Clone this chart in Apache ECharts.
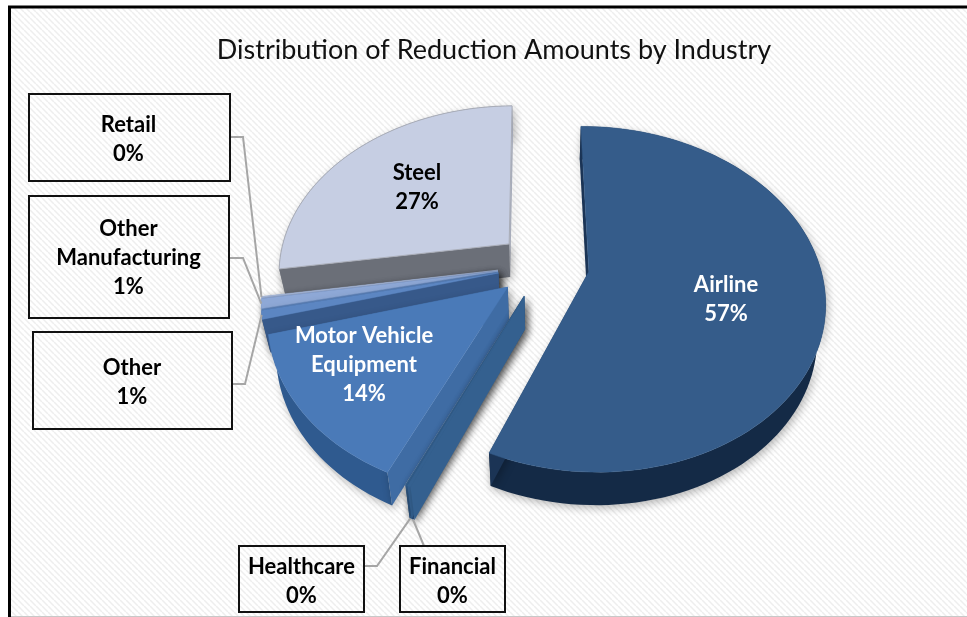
<!DOCTYPE html>
<html><head><meta charset="utf-8">
<style>html,body{margin:0;padding:0;background:#fff;overflow:hidden}
#c{width:967px;height:617px}</style>
<script src="https://cdn.jsdelivr.net/npm/echarts@6/dist/echarts.min.js"></script>
</head><body><div id="c"></div>
<script>
// Data, in clockwise order starting from the top of the pie
const categories = ['Airline','Financial','Healthcare','Motor Vehicle Equipment','Other','Other Manufacturing','Retail','Steel'];
const shareValues = [56.6, 0.2, 0.1, 14.0, 0.8, 0.9, 0.1, 27.3];
const chartTitle = 'Distribution of Reduction Amounts by Industry';

// Styles per category
const topColors   = ['#355c8a','#34608f','#34608f','#4a7ab8','#5c86c2','#8ea8d6','#a9bbdd','#c6cee3'];
const rimColors   = ['#142a46','#2b5080','#2f5a8f','#2f5a8f','#3a5f8e','#587cb0','#7f90b0','#8a8e98'];
const wallFirst   = ['#1b3455','#34608f','#34608f','#3f6ca4','#37598a','#5a7fb5','#8a9cc0','#6b6f78'];
const wallLast    = ['#1b3455','#34608f','#34608f','#3f6ca4','#37598a','#5a7fb5','#8a9cc0','#a7acba'];

// Label layout: [cx, cy, boxX, boxY, boxW, boxH]
const labelLayout = {
  'Airline':[726,299],
  'Steel':[417,187],
  'Motor Vehicle Equipment':[364,365],
  'Retail':[128.5,139,29,94,201,87],
  'Other Manufacturing':[128.5,258,29,196,200,122],
  'Other':[132,382,33,332,199,97],
  'Healthcare':[301.5,581,239,546,125,66],
  'Financial':[452.5,581,400,546,105,66]
};
const labelLines = {'Motor Vehicle Equipment':['Motor Vehicle','Equipment'],'Other Manufacturing':['Other','Manufacturing']};
const labelWhite = {'Airline':1,'Motor Vehicle Equipment':1};
// Leader elbows: box exit point and knee
const leaders = {
  'Retail':[[230,137],[243,137]],
  'Other Manufacturing':[[230,258],[243,258]],
  'Other':[[232,384],[245,384]],
  'Healthcare':[[364,566],[377,566]],
  'Financial':[[424,546]]
};

// Pie projection
const pie = {cx:543.5, cy:265, R:231, explode:46, squash:0.72, persp:1450, depth:33, shrink:0.03, start:-0.5};
function project(X,Y){
  const s = 1/(1-Y/pie.persp);
  return [pie.cx + X*s, pie.cy + Y*pie.squash*s];
}
function lower(p){ return [p[0] + (pie.cx-p[0])*pie.shrink, p[1] + pie.depth]; }
const total = shareValues.reduce((a,b)=>a+b,0);
const spans = []; (function(){ let acc=0; shareValues.forEach(v=>{ const a0=pie.start+acc/total*360; acc+=v; spans.push([a0,pie.start+acc/total*360]); }); })();
function slicePts(i){
  const [a0,a1]=spans[i], mid=(a0+a1)/2*Math.PI/180;
  const ox=Math.sin(mid)*pie.explode, oy=-Math.cos(mid)*pie.explode;
  const apex=project(ox,oy), arc=[];
  const n=Math.max(2,Math.ceil((a1-a0)/2));
  for(let k=0;k<=n;k++){ const t=(a0+(a1-a0)*k/n)*Math.PI/180;
    arc.push(project(ox+Math.sin(t)*pie.R, oy-Math.cos(t)*pie.R)); }
  return {apex,arc};
}
const shadow={shadowBlur:8,shadowColor:'rgba(0,0,0,0.28)',shadowOffsetX:2,shadowOffsetY:3};
const order=[7,6,5,4,3,2,1,0];

function renderSlice(params,api){
  const i=order[params.dataIndex];
  const {apex,arc}=slicePts(i);
  const ch=[];
  const la=lower(apex), first=arc[0], last=arc[arc.length-1];
  ch.push({type:'polygon',shape:{points:arc.concat(arc.map(lower).reverse())},style:Object.assign({fill:rimColors[i]},shadow)});
  ch.push({type:'polygon',shape:{points:[apex,last,lower(last),la]},style:Object.assign({fill:wallLast[i]},shadow)});
  ch.push({type:'polygon',shape:{points:[apex,first,lower(first),la]},style:Object.assign({fill:wallFirst[i]},shadow)});
  ch.push({type:'polygon',shape:{points:[apex].concat(arc)},style:{fill:topColors[i],stroke:i===7?'#a9adb8':topColors[i],lineWidth:i===7?1:0.5}});
  return {type:'group',children:ch};
}
function fmt(name){
  const v=shareValues[categories.indexOf(name)];
  return (labelLines[name]||[name]).concat([Math.round(v/total*100)+'%']).join('\n');
}
function renderLabel(params,api){
  const name=categories[params.dataIndex], L=labelLayout[name], ch=[];
  if(L.length>2){
    const i=params.dataIndex, {arc}=slicePts(i);
    let tip=arc[arc.length>>1];
    if(name==='Healthcare'||name==='Financial') tip=lower(tip);
    ch.push({type:'polyline',shape:{points:leaders[name].concat([tip])},style:{fill:null,stroke:'#a6a6a6',lineWidth:2}});
    ch.push({type:'rect',shape:{x:L[2],y:L[3],width:L[4],height:L[5]},style:{fill:null,stroke:'#111',lineWidth:2}});
  }
  ch.push({type:'text',style:{x:L[0],y:L[1],text:fmt(name),align:'center',verticalAlign:'middle',
    font:'bold 22px Lato',lineHeight:29,fill:labelWhite[name]?'#fff':'#000'}});
  return {type:'group',children:ch};
}
function stripes(){
  const c=document.createElement('canvas');c.width=c.height=6;
  const g=c.getContext('2d');g.fillStyle='#fff';g.fillRect(0,0,6,6);
  g.strokeStyle='#eeeeee';g.lineWidth=1.5;
  for(let k=-6;k<=12;k+=6){g.beginPath();g.moveTo(k,0);g.lineTo(k+6,6);g.stroke();}
  return c;
}
const chart=echarts.init(document.getElementById('c'),null,{renderer:'canvas'});
chart.setOption({
  animation:false,
  backgroundColor:'#fff',
  graphic:[
    {type:'rect',z:-10,shape:{x:10,y:7,width:957,height:609},style:{fill:{image:stripes(),repeat:'repeat'}}},
    {type:'polyline',z:-9,shape:{points:[[9.5,617],[9.5,7],[967,7]]},style:{fill:null,stroke:'#000',lineWidth:3}},
    {type:'line',z:-9,shape:{x1:11,y1:616.5,x2:967,y2:616.5},style:{stroke:'#c8c8c8',lineWidth:1}}
  ],
  title:{text:chartTitle,left:489,top:32,textAlign:'center',textStyle:{fontFamily:'Lato',fontWeight:'normal',fontSize:27,color:'#111'}},
  series:[
    {type:'custom',coordinateSystem:'none',silent:true,clip:false,data:order.map(i=>shareValues[i]),renderItem:renderSlice,z:2},
    {type:'custom',coordinateSystem:'none',silent:true,clip:false,data:shareValues,renderItem:renderLabel,z:3}
  ]
});
</script></body></html>
